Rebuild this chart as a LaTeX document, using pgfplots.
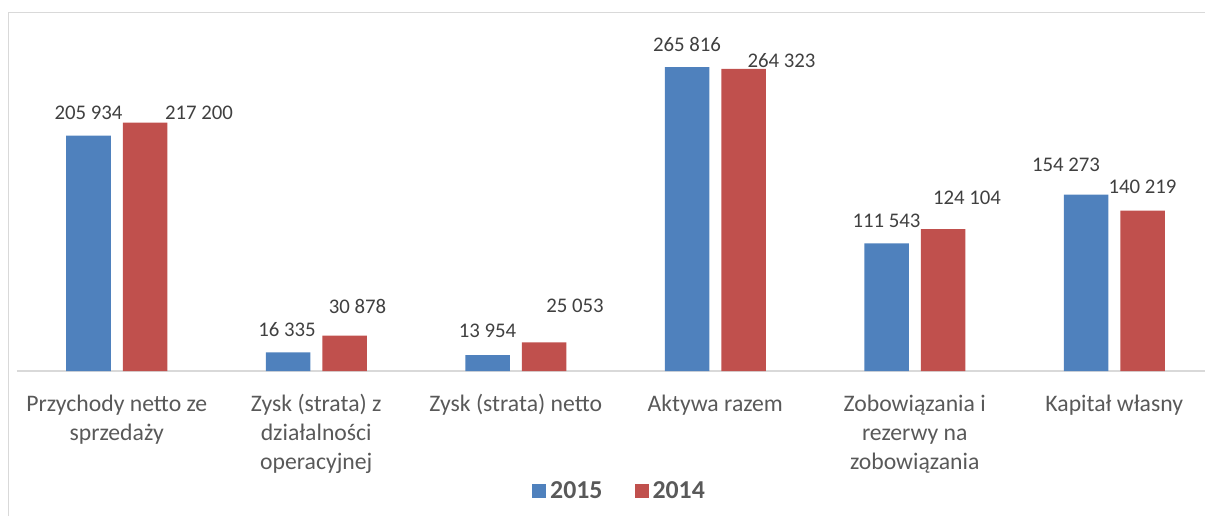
\documentclass[border=0pt]{standalone}
\usepackage{fontspec}
\setmainfont{Carlito}
\usepackage{pgfplots}
\usepackage{pgfplotstable}
\pgfplotsset{compat=1.18}
\definecolor{cblue}{HTML}{4F81BD}
\definecolor{cred}{HTML}{C0504D}
\definecolor{cgrid}{HTML}{D9D9D9}
\definecolor{ctext}{HTML}{595959}
\definecolor{clab}{HTML}{404040}

\pgfplotstableread{
x y dx dy lab
0 205934 0 23 205~934
1 16335 -1 23 16~335
2 13954 0 24 13~954
3 265816 0 23 265~816
4 111543 0 23 111~543
5 154273 -20 30 154~273
}\dataA
\pgfplotstableread{
x y dx dy lab
0 217200 54 10 217~200
1 30878 13 29 30~878
2 25053 31 37 25~053
3 264323 38 8 264~323
4 124104 24 31 124~104
5 140219 0 24 140~219
}\dataB

\begin{document}
\begin{tikzpicture}
\path[use as bounding box] (0,0) rectangle (602.5pt,258pt);
\draw[cgrid, line width=0.6pt] (4.25pt,0) -- (4.25pt,251.6pt) -- (602.5pt,251.6pt);
\begin{axis}[
  at={(8.5pt,72.5pt)}, anchor=south west,
  scale only axis, width=598.5pt, height=171.5pt,
  xmin=-0.5, xmax=5.5, ymin=0, ymax=300000,
  hide y axis,
  axis x line*=bottom,
  x axis line style={cgrid, line width=0.6pt},
  xtick={0,1,2,3,4,5},
  major tick length=0pt,
  xticklabels={
    {\strut Przychody netto ze\\sprzedaży},
    {\strut Zysk (strata) z\\działalności\\operacyjnej},
    {\strut Zysk (strata) netto},
    {\strut Aktywa razem},
    {\strut Zobowiązania i\\rezerwy na\\zobowiązania},
    {\strut Kapitał własny}},
  xticklabel style={anchor=north, inner sep=0pt, yshift=-9.85pt, align=center,
    font=\fontsize{11.85}{14.5}\selectfont, text=ctext},
  ybar=6pt, bar width=22.25pt,
  point meta=explicit symbolic,
  nodes near coords={\pgfplotspointmeta},
  visualization depends on={\thisrow{dx} \as \mydx},
  visualization depends on={\thisrow{dy} \as \mydy},
  nodes near coords style={anchor=center, inner sep=0pt, xshift=\mydx*0.5pt, yshift=\mydy*0.5pt,
    font=\fontsize{10.4}{12}\selectfont, text=clab},
  legend style={at={(0.5042,-0.35)}, anchor=center, draw=none, fill=none,
    legend columns=2, font=\bfseries\fontsize{12.9}{15}\selectfont, text=ctext,
    /tikz/every even column/.append style={column sep=14pt}},
  legend image code/.code={\fill[#1] (-1.5pt,-3.5pt) rectangle (5.5pt,3.5pt);},
]
\addplot[fill=cblue, draw=none] table[x=x, y=y, meta=lab]{\dataA};
\addplot[fill=cred, draw=none] table[x=x, y=y, meta=lab]{\dataB};
\legend{2015,2014}
\end{axis}
\end{tikzpicture}
\end{document}
